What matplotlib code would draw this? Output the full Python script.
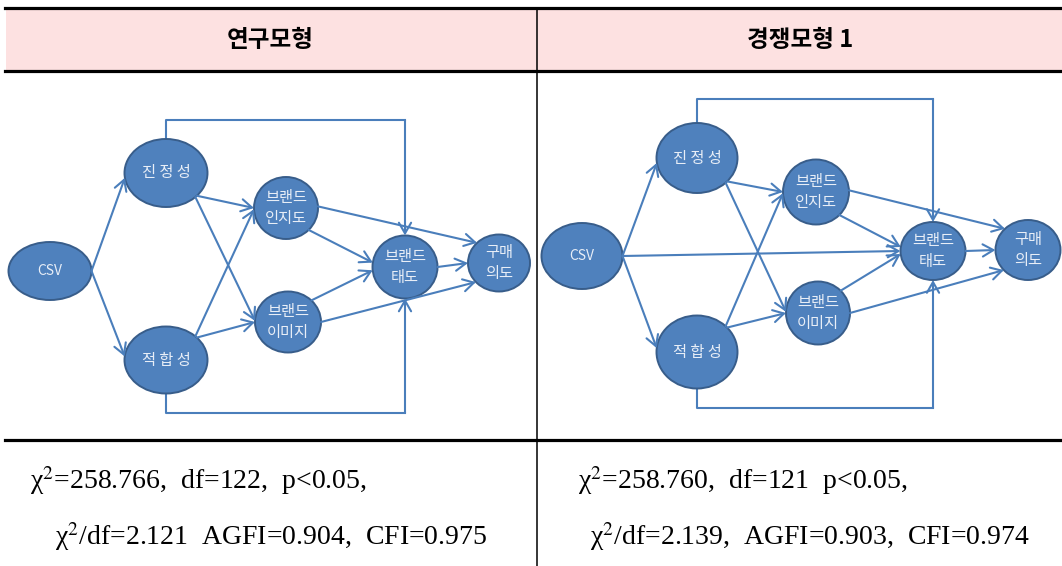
import numpy as np
import matplotlib
matplotlib.use('Agg')
import matplotlib.pyplot as plt
from matplotlib.patches import Ellipse, Rectangle, FancyArrowPatch

plt.rcParams['font.family'] = ['Noto Sans CJK KR', 'DejaVu Sans']
plt.rcParams['mathtext.fontset'] = 'stix'

# 표 텍스트
headers = ['연구모형', '경쟁모형 1']
fit_line1 = ['χ$^{2}$=258.766,  df=122,  p<0.05,', 'χ$^{2}$=258.760,  df=121  p<0.05,']
fit_line2 = ['χ$^{2}$/df=2.121  AGFI=0.904,  CFI=0.975', 'χ$^{2}$/df=2.139,  AGFI=0.903,  CFI=0.974']

# 노드 / 경로
node_keys = ['csv', 'auth', 'fit', 'aware', 'image', 'att', 'pi']
node_labels = ['CSV', '진 정 성', '적 합 성', '브랜드\n인지도', '브랜드\n이미지', '브랜드\n태도', '구매\n의도']

paths_research = [('csv', 'auth'), ('csv', 'fit'), ('auth', 'aware'), ('auth', 'image'),
                  ('fit', 'aware'), ('fit', 'image'), ('aware', 'pi'), ('aware', 'att'),
                  ('image', 'att'), ('image', 'pi'), ('att', 'pi')]
paths_rival = paths_research + [('csv', 'att')]
loop_paths = [('auth', 'att'), ('fit', 'att')]

# 레이아웃 (픽셀 좌표: cx, cy, w, h)
left_layout = {
    'csv': (50, 271, 83, 58), 'auth': (166, 173, 83, 68), 'fit': (166, 360, 83, 67),
    'aware': (286, 208, 64, 62), 'image': (288, 322, 66, 61),
    'att': (405, 267, 65, 63), 'pi': (499, 263, 62, 57),
}
right_layout = {
    'csv': (582, 256, 81, 66), 'auth': (697, 158, 81, 70), 'fit': (697, 352, 81, 73),
    'aware': (816, 192, 66, 65), 'image': (818, 313, 64, 63),
    'att': (933, 251, 65, 58), 'pi': (1028, 250, 65, 60),
}
left_loop_y = {'auth': 120, 'fit': 413}
right_loop_y = {'auth': 99, 'fit': 408}

# 화살표가 붙는 타원 위 각도 (출발, 도착)
anchors = {
    ('csv', 'auth'): (0, 188), ('csv', 'fit'): (0, 174), ('csv', 'att'): (0, 180),
    ('auth', 'aware'): (-42, 180), ('auth', 'image'): (-45, 178),
    ('fit', 'aware'): (45, 182), ('fit', 'image'): (42, 180),
    ('aware', 'pi'): (3, 135), ('aware', 'att'): (-45, 172),
    ('image', 'att'): (45, 186), ('image', 'pi'): (0, 222), ('att', 'pi'): (0, 180),
}

line_c = '#4a7ebb'
fill_c = '#4f81bd'
edge_c = '#385d8a'


def on_ellipse(node, ang):
    cx, cy, w, h = node
    t = np.deg2rad(ang)
    return cx + w / 2 * np.cos(t), cy - h / 2 * np.sin(t)


def arrow(ax, p0, p1):
    ax.add_patch(FancyArrowPatch(p0, p1, arrowstyle='->,head_length=0.7,head_width=0.4',
                                 mutation_scale=11, color=line_c, lw=1.5,
                                 shrinkA=0, shrinkB=0, zorder=4))


def draw_model(ax, layout, paths, loop_y):
    for key, lab in zip(node_keys, node_labels):
        cx, cy, w, h = layout[key]
        ax.add_patch(Ellipse((cx, cy), w, h, facecolor=fill_c, edgecolor=edge_c, lw=1.4, zorder=3))
        fs = 10 if key == 'csv' else 11
        ax.text(cx, cy, lab, ha='center', va='center', color='#e8eef7', fontsize=fs,
                linespacing=1.3, zorder=5)
    for a, b in paths:
        sa, sb = anchors[(a, b)]
        arrow(ax, on_ellipse(layout[a], sa), on_ellipse(layout[b], sb))
    for a, b in loop_paths:
        ax_, ay_ = on_ellipse(layout[a], 90 if loop_y[a] < layout[a][1] else -90)
        bx_, by_ = on_ellipse(layout[b], 90 if loop_y[a] < layout[b][1] else -90)
        yl = loop_y[a]
        ax.plot([ax_, ax_, bx_], [ay_, yl, yl], color=line_c, lw=1.5, zorder=2)
        arrow(ax, (bx_, yl), (bx_, by_))


fig = plt.figure(figsize=(10.62, 5.66), dpi=100)
ax = fig.add_axes([0, 0, 1, 1])
ax.set_xlim(0, 1062)
ax.set_ylim(566, 0)
ax.axis('off')

# 표 틀
ax.add_patch(Rectangle((6, 8), 1056, 62, facecolor='#fde1e1', edgecolor='none', zorder=0))
for y in [8, 70.5, 440]:
    ax.plot([5, 1062], [y, y], color='black', lw=2.3, zorder=1)
ax.plot([536.5, 536.5], [8, 566], color='black', lw=1.1, zorder=1)

ax.text(270, 40, headers[0], ha='center', va='center', fontsize=17, fontweight='bold')
ax.text(800, 40, headers[1], ha='center', va='center', fontsize=17, fontweight='bold')

draw_model(ax, left_layout, paths_research, left_loop_y)
draw_model(ax, right_layout, paths_rival, right_loop_y)

serif = ['Liberation Serif', 'DejaVu Serif']
ax.text(30, 481, fit_line1[0], ha='left', va='center', fontsize=20, family=serif)
ax.text(55, 537, fit_line2[0], ha='left', va='center', fontsize=20, family=serif)
ax.text(578, 481, fit_line1[1], ha='left', va='center', fontsize=20, family=serif)
ax.text(590, 537, fit_line2[1], ha='left', va='center', fontsize=20, family=serif)

fig.savefig('out.png', dpi=100)
